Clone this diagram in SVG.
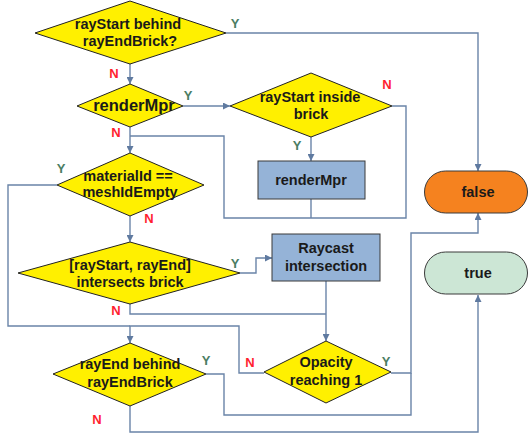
<svg xmlns="http://www.w3.org/2000/svg" width="528" height="435" viewBox="0 0 528 435">
<style>
.c{fill:none;stroke:#6a84a8;stroke-width:1.4}
.d{fill:#fff000;stroke:#222;stroke-width:1}
.b{fill:#95b3d7;stroke:#3a3a3a;stroke-width:1}
.t{font-family:"Liberation Sans",Arial,sans-serif;font-weight:bold;font-size:14.5px;fill:#1a1a1a;text-anchor:middle}
.y{font-family:"Liberation Sans",Arial,sans-serif;font-weight:bold;font-size:13px;fill:#4a7d64;text-anchor:middle}
.n{font-family:"Liberation Sans",Arial,sans-serif;font-weight:bold;font-size:13px;fill:#ff1f2f;text-anchor:middle}
</style>
<defs>
<marker id="a" viewBox="0 0 10 10" refX="10" refY="5" markerWidth="7" markerHeight="7" markerUnits="userSpaceOnUse" orient="auto">
<path d="M0,0 L10,5 L0,10 z" fill="#5f7aa0"/>
</marker>
</defs>
<g id="connectors">
<polyline class="c" points="226,33 478,33 478,171" marker-end="url(#a)"/>
<polyline class="c" points="130,64 130,84" marker-end="url(#a)"/>
<polyline class="c" points="183,106 230,106" marker-end="url(#a)"/>
<polyline class="c" points="130,127 130,153" marker-end="url(#a)"/>
<polyline class="c" points="130,136 224,136 224,218 406,218 406,106 392,106"/>
<polyline class="c" points="311,199 311,218"/>
<polyline class="c" points="311,137 311,161" marker-end="url(#a)"/>
<polyline class="c" points="130,216 130,242" marker-end="url(#a)"/>
<polyline class="c" points="57,185 8,185 8,326 130,326"/>
<polyline class="c" points="264,373 239,373 239,326 130,326 130,343" marker-end="url(#a)"/>
<polyline class="c" points="240,273 256,273 256,258 272,258" marker-end="url(#a)"/>
<polyline class="c" points="130,304 130,314 326,314"/>
<polyline class="c" points="326,281 326,341" marker-end="url(#a)"/>
<polyline class="c" points="391,373 411,373 411,233 478,233 478,213" marker-end="url(#a)"/>
<polyline class="c" points="206,374 224,374 224,415 411,415 411,373"/>
<polyline class="c" points="130,406 130,432 478,432 478,295" marker-end="url(#a)"/>
</g>
<g id="labels">
<text class="y" x="235" y="28">Y</text>
<text class="n" x="114" y="78">N</text>
<text class="y" x="188" y="100">Y</text>
<text class="n" x="116" y="137">N</text>
<text class="n" x="387" y="89">N</text>
<text class="y" x="297" y="150">Y</text>
<text class="y" x="61" y="173">Y</text>
<text class="n" x="149" y="223">N</text>
<text class="y" x="235" y="268">Y</text>
<text class="n" x="116" y="315">N</text>
<text class="n" x="250" y="367">N</text>
<text class="y" x="206" y="365">Y</text>
<text class="n" x="97" y="424">N</text>
<text class="y" x="386" y="366">Y</text>
</g>
<g id="d1">
<polygon class="d" points="130,1 226,33 130,64 35,33"/>
<text class="t" x="128" y="29">rayStart behind</text>
<text class="t" x="130" y="46">rayEndBrick?</text>
</g>
<g id="d2">
<polygon class="d" points="130,84 183,106 130,127 77,106"/>
<text class="t" x="134" y="111" style="font-size:16.5px">renderMpr</text>
</g>
<g id="d3">
<polygon class="d" points="311,73 392,106 311,137 230,106"/>
<text class="t" x="310" y="102">rayStart inside</text>
<text class="t" x="311" y="119">brick</text>
</g>
<g id="box1">
<rect class="b" x="258" y="161" width="107" height="38"/>
<text class="t" x="311" y="185">renderMpr</text>
</g>
<g id="d4">
<polygon class="d" points="130,153 204,185 130,216 57,185"/>
<text class="t" x="128" y="181">materialId ==</text>
<text class="t" x="130" y="197">meshIdEmpty</text>
</g>
<g id="d5">
<polygon class="d" points="130,242 240,273 130,304 18,273"/>
<text class="t" x="130" y="270">[rayStart, rayEnd]</text>
<text class="t" x="130" y="287">intersects brick</text>
</g>
<g id="box2">
<rect class="b" x="272" y="234" width="108" height="47"/>
<text class="t" x="326" y="253">Raycast</text>
<text class="t" x="326" y="271">intersection</text>
</g>
<g id="d6">
<polygon class="d" points="326,341 391,372 326,403 264,372"/>
<text class="t" x="326" y="367">Opacity</text>
<text class="t" x="326" y="385">reaching 1</text>
</g>
<g id="d7">
<polygon class="d" points="130,343 206,374 130,406 53,374"/>
<text class="t" x="130" y="369">rayEnd behind</text>
<text class="t" x="130" y="387">rayEndBrick</text>
</g>
<g id="false">
<rect x="424.5" y="171" width="103" height="42" rx="21" fill="#f5821f" stroke="#3a3a3a" stroke-width="1"/>
<text class="t" x="478" y="197">false</text>
</g>
<g id="true">
<rect x="424.5" y="252" width="103" height="42" rx="21" fill="#cce6d5" stroke="#3a3a3a" stroke-width="1"/>
<text class="t" x="478" y="278">true</text>
</g>
</svg>
